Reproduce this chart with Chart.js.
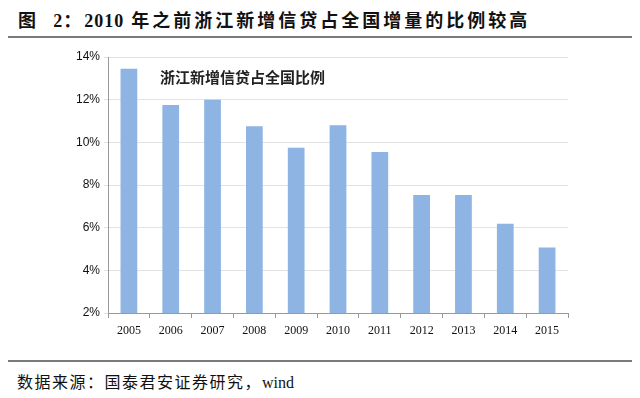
<!DOCTYPE html>
<html>
<head>
<meta charset="utf-8">
<script src="https://cdn.jsdelivr.net/npm/chart.js@4.4.1/dist/chart.umd.min.js"></script>
<style>
  body { margin: 0; background: #fff; width: 640px; height: 398px; position: relative; overflow: hidden; }
  #title { position: absolute; left: 18px; top: 6px; font: bold 18px "Noto Sans CJK SC", sans-serif; letter-spacing: 3px; color: #111; white-space: nowrap; }
  #title .num { font-family: "Liberation Serif", serif; letter-spacing: 1px; }
  .rule { position: absolute; left: 8px; width: 624px; height: 2px; background: #7a7a7a; }
  #src { position: absolute; left: 17px; top: 369px; font: 16px "Noto Sans CJK SC", sans-serif; letter-spacing: 1.5px; color: #111; white-space: nowrap; }
  #src .en { font-family: "Liberation Serif", serif; letter-spacing: 0; }
  #note { position: absolute; left: 160px; top: 66px; font: bold 15px "Noto Sans CJK SC", sans-serif; color: #222; white-space: nowrap; }
  #wrap { position: absolute; left: 0; top: 40px; width: 640px; height: 310px; }
</style>
</head>
<body>
<div id="title">图&nbsp; <span class="num">2</span>：<span class="num">2010</span> 年之前浙江新增信贷占全国增量的比例较高</div>
<div class="rule" style="top:36px"></div>
<div id="wrap"><canvas id="chart"></canvas></div>
<div id="note">浙江新增信贷占全国比例</div>
<div class="rule" style="top:360px"></div>
<div id="src">数据来源：国泰君安证券研究，<span class="en">wind</span></div>
<script>
// 浙江新增信贷占全国比例 (%)
const anos = ['2005', '2006', '2007', '2008', '2009', '2010', '2011', '2012', '2013', '2014', '2015'];
const proporcao = [13.45, 11.75, 12.0, 10.75, 9.75, 10.8, 9.55, 7.53, 7.53, 6.18, 5.07];
const ticksY = [2, 4, 6, 8, 10, 12, 14];

graficoProporcao();
function graficoProporcao(){
    let ctx = document.getElementById("chart").getContext("2d");
    new Chart(ctx, {
        type: 'bar',
        data: {
            labels: anos,
            datasets: [
                {data: proporcao, label: '浙江新增信贷占全国比例', backgroundColor: '#8db4e2',
                 categoryPercentage: 1, barPercentage: 0.4}
            ]
        },
        options: {
            responsive: true,
            maintainAspectRatio: false,
            animation: false,
            layout: {padding: {top: 17, right: 72, left: 0, bottom: 0}},
            plugins: {legend: {display: false}, tooltip: {enabled: false}},
            scales: {
                x: {
                    grid: {display: true, drawOnChartArea: false, offset: true, color: '#999', tickLength: 5},
                    border: {color: '#999'},
                    ticks: {color: '#111', font: {family: 'Liberation Serif', size: 12}, padding: 6},
                    afterFit: s => { s.height = 37; }
                },
                y: {
                    min: 2, max: 14,
                    afterBuildTicks: s => { s.ticks = ticksY.map(v => ({value: v})); },
                    grid: {color: '#e2e2e2', tickLength: 4},
                    border: {color: '#999'},
                    ticks: {color: '#111', font: {family: 'Liberation Sans', size: 12}, padding: 4,
                            callback: v => v + '%'},
                    afterFit: s => { s.width = 108; }
                }
            }
        }
    });
}
</script>
</body>
</html>
